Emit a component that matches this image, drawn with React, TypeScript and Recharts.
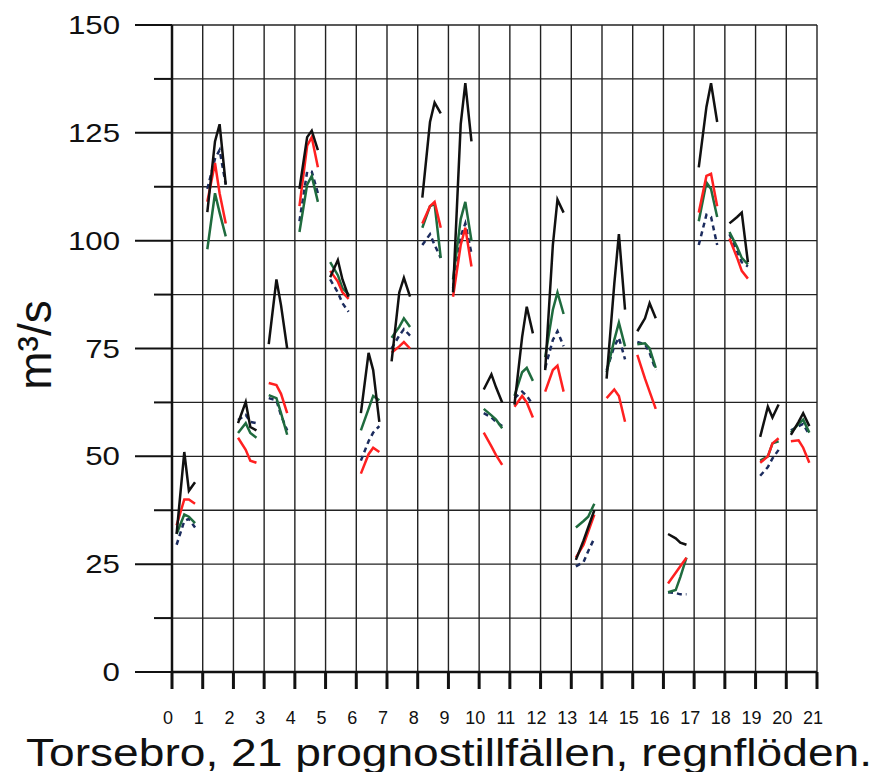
import React from "react";
import { CartesianGrid, Line, LineChart, XAxis, YAxis } from "recharts";

// position of each point inside its forecast interval
const offsets = [0.15, 0.4, 0.55, 0.75];

const xTicks = Array.from({ length: 22 }, (_, i) => i);
const yTicks = [0, 12.5, 25, 37.5, 50, 62.5, 75, 87.5, 100, 112.5, 125, 137.5, 150];

const blackVals = [
  [32, 51, 42, 44], [106.6, 123, 127, 113], [57.7, 62.6, 56.8, 56], [76, 91, 85, 75],
  [112, 124, 125.5, 121], [91.5, 95.5, 91, 87], [60, 74, 70, 58], [72, 88, 91.4, 87],
  [110, 127.5, 132, 129.5], [88, 127, 136.5, 123], [65.5, 69, 66, 62.5], [62, 77.7, 84.7, 78.5],
  [70, 99, 109.5, 106.5], [26, 30.5, 33.5, 37.5], [68, 90, 101.5, 84], [79, 82, 85.5, 82],
  [32, 31, 30, 29.5], [117, 131, 136.5, 127.5], [104, 105.5, 106.5, 95], [54.5, 61.5, 59, 62],
  [55, 58, 60, 57],
];

const redVals = [
  [34, 40, 40, 39], [109, 118, 111, 104], [54.3, 51.5, 49, 48.5], [67, 66.5, 64.5, 60],
  [108, 122, 124, 117], [93, 90.5, 88, 86.5], [46, 50.5, 52, 51], [74, 75.5, 76.5, 75],
  [104, 108, 109, 103], [87, 99, 103, 94], [55.5, 52.3, 50.3, 48], [61.5, 64, 62.5, 59],
  [65, 70, 71, 65], [26.5, 29.5, 32.5, 36.5], [63.5, 65.5, 64, 58], [73.5, 68, 65, 61],
  [20.5, 23, 24.5, 26.5], [106.5, 115, 115.5, 108], [100.5, 96, 93, 91.2], [48.5, 50, 53, 54.2],
  [53.5, 53.7, 52, 48.5],
];

const greenVals = [
  [32, 36.5, 36, 34.5], [98, 111, 106.5, 101], [55.4, 57.7, 55.4, 54.3], [64.2, 63.5, 60, 55],
  [102, 113, 115, 109], [95, 92, 89, 87.5], [56, 61, 64, 63], [77.5, 80, 82, 80],
  [103, 108, 108.5, 96], [91, 105, 109, 100], [61, 59.5, 58.5, 56.5], [64, 69.5, 70.5, 67.5],
  [73, 84, 88, 83], [33.5, 35, 36, 39], [69.5, 77, 81, 75.5], [76, 76.2, 75, 70.5],
  [18.5, 19, 22, 26.5], [104.5, 113.5, 112, 105.5], [102, 98.5, 96, 94.5], [49, 50, 53, 53.5],
  [55.5, 57.5, 58.5, 55.5],
];

const blueVals = [
  [29.5, 35, 35.5, 33.5], [112, 119, 121, 113], [58.4, 59.6, 58, 57.7], [63.5, 63, 59.5, 56],
  [104.5, 116, 116, 111], [91, 88, 85.5, 83.5], [49, 53.5, 55.5, 57], [75, 78, 79.5, 78],
  [99, 101.5, 99, 96], [89, 101, 104, 97], [60, 59, 58, 57], [63.5, 65, 64, 62],
  [70.5, 77, 79, 75.5], [24.5, 25.5, 28, 31], [70, 75.5, 77.5, 72.5], [76.5, 76, 74, 70],
  [18.5, 18.3, 18, 18], [99, 106, 105.5, 99], [101.5, 97.5, 95, 94], [45.5, 47.5, 49.5, 51.5],
  [56, 57, 57.5, 55],
];

type Pt = { x: number; y: number | null };

function toPoints(vals: number[][]): Pt[] {
  const pts: Pt[] = [];
  vals.forEach((ev, i) => {
    ev.forEach((v, j) => pts.push({ x: i + offsets[j], y: v }));
    pts.push({ x: i + 0.9, y: null });
  });
  return pts;
}

const FONT = "'Liberation Sans', Arial, sans-serif";
const AXIS_X = 164; // left edge of plot inside the svg
const AXIS_Y = 664; // bottom edge of plot inside the svg

function YTick(props: any) {
  const { y, payload } = props;
  const x = AXIS_X;
  const major = payload.value % 25 === 0;
  return (
    <g>
      <line x1={x - (major ? 37 : 18)} x2={x} y1={y} y2={y} stroke="#111" strokeWidth={2} />
      {major && (
        <text
          x={0}
          y={0}
          transform={`translate(${x - 52},${y + 9}) scale(1.25,1)`}
          textAnchor="end"
          fontSize={25}
          fontFamily={FONT}
          fill="#111"
        >
          {payload.value}
        </text>
      )}
    </g>
  );
}

function XTick(props: any) {
  const { x, payload } = props;
  return (
    <g>
      <path d={`M${x - 1.5},${AXIS_Y} h3 v17 h-3 Z`} fill="#111" stroke="none" />
      <text x={x - 4} y={AXIS_Y + 52} textAnchor="middle" fontSize={18} fontFamily={FONT} fill="#111">
        {payload.value}
      </text>
    </g>
  );
}

const series = [
  { key: "blue", vals: blueVals, color: "#1c2c5e", dash: "5 4" },
  { key: "green", vals: greenVals, color: "#1f6b3e", dash: undefined },
  { key: "red", vals: redVals, color: "#ff2020", dash: undefined },
  { key: "black", vals: blackVals, color: "#111111", dash: undefined },
];

export default function App() {
  return (
    <div style={{ position: "relative", width: 869, height: 764 }}>
      <LineChart width={869} height={764} margin={{ top: 17, right: 60, left: 104, bottom: 40 }}>
        <CartesianGrid stroke="#222" strokeWidth={1.4} />
        <XAxis
          type="number"
          dataKey="x"
          domain={[0, 21]}
          ticks={xTicks}
          interval={0}
          height={60}
          tickSize={0}
          tickMargin={0}
          axisLine={{ stroke: "#111", strokeWidth: 2.5 }}
          tickLine={false}
          tick={<XTick />}
          allowDuplicatedCategory={false}
        />
        <YAxis
          type="number"
          domain={[0, 150]}
          ticks={yTicks}
          interval={0}
          width={60}
          tickSize={0}
          tickMargin={0}
          axisLine={{ stroke: "#111", strokeWidth: 2.5 }}
          tickLine={false}
          tick={<YTick />}
        />
        {series.map((s) => (
          <Line
            key={s.key}
            data={toPoints(s.vals)}
            dataKey="y"
            type="linear"
            stroke={s.color}
            strokeWidth={2.5}
            strokeDasharray={s.dash}
            dot={false}
            activeDot={false}
            connectNulls={false}
            isAnimationActive={false}
          />
        ))}
      </LineChart>
      <svg
        width={869}
        height={772}
        style={{ position: "absolute", left: 0, top: 0, pointerEvents: "none" }}
      >
        <text
          x={0}
          y={0}
          transform="translate(43,337) rotate(-90)"
          textAnchor="middle"
          fontSize={46}
          fontFamily={FONT}
          fill="#111"
        >
          m³/s
        </text>
        <text
          x={18}
          y={758}
          textLength={846}
          lengthAdjust="spacingAndGlyphs"
          fontSize={38}
          fontFamily={FONT}
          fill="#111"
        >
          Torsebro, 21 prognostillfällen, regnflöden.
        </text>
      </svg>
    </div>
  );
}
